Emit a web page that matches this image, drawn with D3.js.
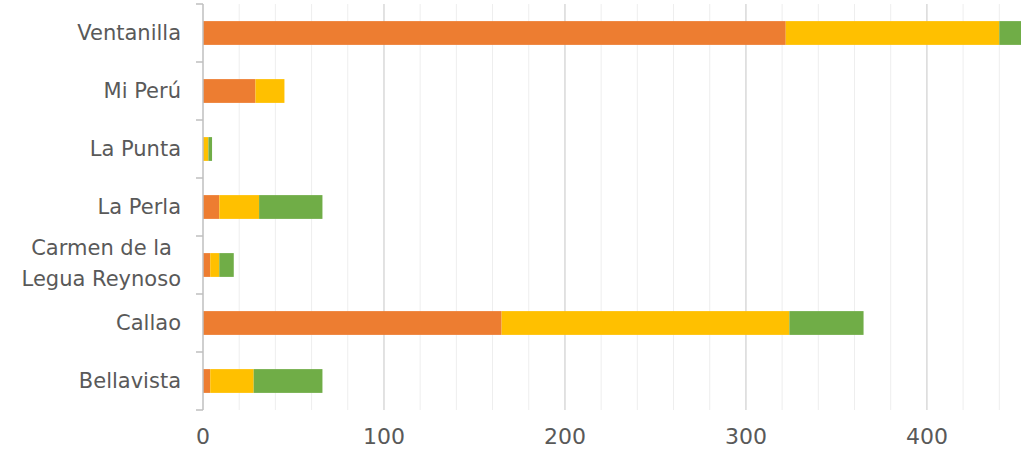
<!DOCTYPE html>
<html>
<head>
<meta charset="utf-8">
<script src="https://cdn.jsdelivr.net/npm/d3@7"></script>
<style>
  body { margin: 0; background: #fff; }
  svg text { font-family: "DejaVu Sans", sans-serif; fill: #595959; }
</style>
</head>
<body>
<div id="chart"></div>
<script>
// Chart data
const categories = ["Ventanilla", "Mi Perú", "La Punta", "La Perla", "Carmen de la Legua Reynoso", "Callao", "Bellavista"];
const seriesNames = ["s1", "s2", "s3"];
const seriesA = [322, 29, 0, 9, 4, 165, 4];
const seriesB = [118, 16, 3, 22, 5, 159, 24];
const seriesC = [14, 0, 2, 35, 8, 41, 38];
const xTicks = [0, 100, 200, 300, 400];

const WIDTH = 1021;
const HEIGHT = 449;
const MARGIN = { left: 203, right: 0, top: 4, bottom: 39 };
const COLORS = ["#ED7D31", "#FFC000", "#70AD47"];

const plotW = WIDTH - MARGIN.left - MARGIN.right;
const plotH = HEIGHT - MARGIN.top - MARGIN.bottom;

const rows = categories.map((c, i) => ({ cat: c, s1: seriesA[i], s2: seriesB[i], s3: seriesC[i] }));
const stacked = d3.stack().keys(seriesNames)(rows);

const x = d3.scaleLinear().domain([0, 452]).range([0, plotW]);
const y = d3.scaleBand().domain(categories).range([0, plotH]).paddingInner(0.59).paddingOuter(0.295);
const yOuter = d3.scaleBand().domain(categories).range([0, plotH]);

const svg = d3.select("#chart").append("svg").attr("width", WIDTH).attr("height", HEIGHT);
svg.append("defs").append("clipPath").attr("id", "clip")
    .append("rect").attr("width", plotW).attr("height", plotH + 1);

const g = svg.append("g").attr("transform", `translate(${MARGIN.left},${MARGIN.top})`);

// minor and major gridlines
const minor = d3.range(20, 460, 20).filter(v => v % 100 !== 0);
g.selectAll(".minor").data(minor).enter().append("line")
    .attr("x1", d => x(d)).attr("x2", d => x(d))
    .attr("y1", 0).attr("y2", plotH)
    .attr("stroke", "#eeeeee").attr("stroke-width", 1);
g.selectAll(".major").data(xTicks.slice(1)).enter().append("line")
    .attr("x1", d => x(d)).attr("x2", d => x(d))
    .attr("y1", 0).attr("y2", plotH)
    .attr("stroke", "#d9d9d9").attr("stroke-width", 1.5);

// bars
g.append("g").attr("clip-path", "url(#clip)")
  .selectAll("g").data(stacked).enter().append("g")
    .attr("fill", (d, i) => COLORS[i])
  .selectAll("rect").data(d => d).enter().append("rect")
    .attr("x", d => x(d[0]))
    .attr("y", d => y(d.data.cat))
    .attr("width", d => x(d[1]) - x(d[0]))
    .attr("height", y.bandwidth());

// y axis line with ticks between categories
g.append("line").attr("x1", 0).attr("x2", 0).attr("y1", 0).attr("y2", plotH)
    .attr("stroke", "#bfbfbf").attr("stroke-width", 1.5);
const bounds = categories.map(c => yOuter(c)).concat([plotH]);
g.selectAll(".ytick").data(bounds).enter().append("line")
    .attr("x1", -7).attr("x2", 0)
    .attr("y1", d => d).attr("y2", d => d)
    .attr("stroke", "#bfbfbf").attr("stroke-width", 1.5);

// category labels
const labels = g.selectAll(".ylab").data(categories).enter().append("text")
    .attr("text-anchor", "end")
    .attr("font-size", 21)
    .attr("x", -22)
    .attr("y", d => yOuter(d) + yOuter.bandwidth() / 2);
labels.each(function (d) {
    const t = d3.select(this);
    if (d === "Carmen de la Legua Reynoso") {
        t.append("tspan").attr("x", -31).attr("dy", "-0.5em").text("Carmen de la");
        t.append("tspan").attr("x", -22).attr("dy", "1.5em").text("Legua Reynoso");
    } else {
        t.attr("dy", "0.35em").text(d);
    }
});

// x tick labels
g.selectAll(".xlab").data(xTicks).enter().append("text")
    .attr("text-anchor", "middle")
    .attr("font-size", 22)
    .attr("x", d => x(d))
    .attr("y", plotH + 34)
    .text(d => d);
</script>
</body>
</html>
